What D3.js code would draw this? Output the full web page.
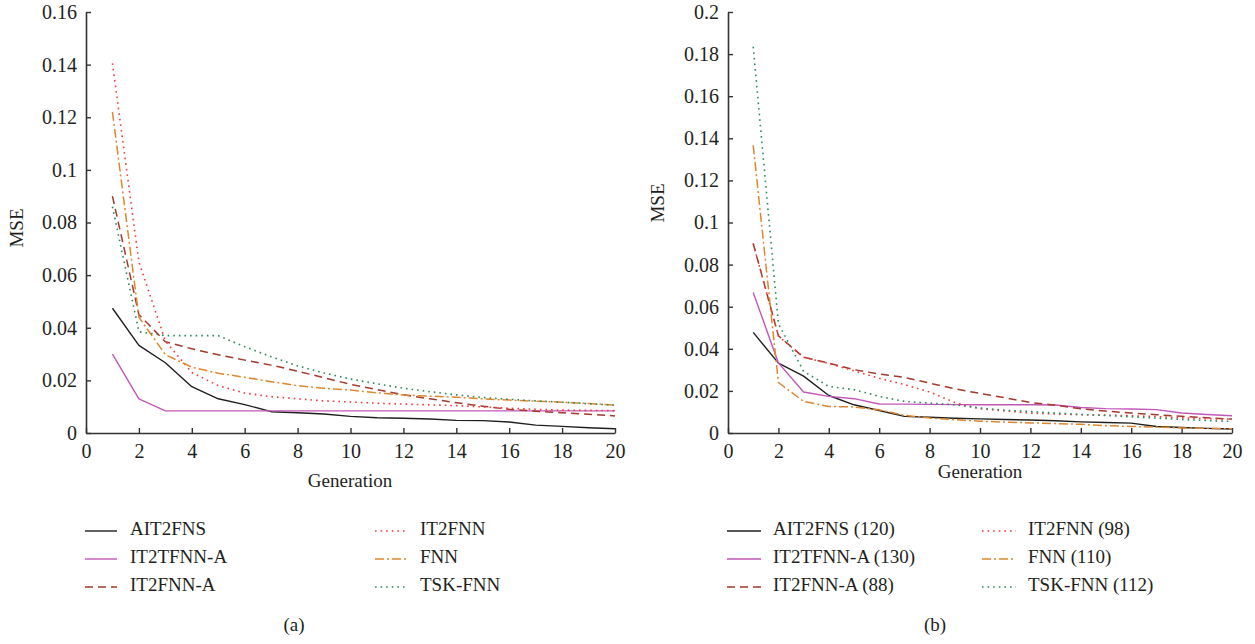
<!DOCTYPE html>
<html>
<head>
<meta charset="utf-8">
<script src="https://cdn.jsdelivr.net/npm/d3@7"></script>
<style>
  html, body { margin: 0; padding: 0; background: #fff; }
  svg { display: block; }
  text { font-family: "Liberation Serif", "Times New Roman", serif; fill: #231f20; }
</style>
</head>
<body>
<svg id="chart" width="1255" height="644"></svg>
<script>
// Generations 1..20
const generations = d3.range(1, 21);

// Panel (a) MSE per generation
const aAIT2FNS   = [0.0474, 0.0333, 0.0267, 0.0176, 0.0130, 0.0108, 0.0081, 0.0077, 0.0072, 0.0063, 0.0058, 0.0056, 0.0053, 0.0048, 0.0047, 0.0042, 0.0030, 0.0025, 0.0020, 0.0016];
const aIT2TFNN_A = [0.0300, 0.0130, 0.0084, 0.0084, 0.0084, 0.0084, 0.0084, 0.0084, 0.0084, 0.0084, 0.0084, 0.0084, 0.0084, 0.0084, 0.0084, 0.0084, 0.0084, 0.0084, 0.0084, 0.0084];
const aIT2FNN_A  = [0.0900, 0.0450, 0.0347, 0.0320, 0.0297, 0.0277, 0.0258, 0.0235, 0.0210, 0.0185, 0.0165, 0.0145, 0.0130, 0.0115, 0.0102, 0.0090, 0.0083, 0.0077, 0.0071, 0.0065];
const aIT2FNN    = [0.1405, 0.0650, 0.0350, 0.0230, 0.0180, 0.0152, 0.0138, 0.0130, 0.0122, 0.0118, 0.0113, 0.0110, 0.0107, 0.0104, 0.0099, 0.0094, 0.0090, 0.0087, 0.0086, 0.0085];
const aFNN       = [0.1220, 0.0440, 0.0298, 0.0250, 0.0227, 0.0212, 0.0195, 0.0180, 0.0170, 0.0163, 0.0153, 0.0144, 0.0140, 0.0136, 0.0130, 0.0125, 0.0121, 0.0117, 0.0112, 0.0106];
const aTSK_FNN   = [0.0860, 0.0385, 0.0370, 0.0370, 0.0370, 0.0328, 0.0290, 0.0255, 0.0228, 0.0205, 0.0187, 0.0170, 0.0157, 0.0145, 0.0135, 0.0128, 0.0122, 0.0117, 0.0111, 0.0106];

// Panel (b) MSE per generation
const bAIT2FNS   = [0.0478, 0.0332, 0.0270, 0.0178, 0.0134, 0.0107, 0.0079, 0.0075, 0.0070, 0.0067, 0.0064, 0.0062, 0.0058, 0.0053, 0.0050, 0.0047, 0.0031, 0.0026, 0.0022, 0.0019];
const bIT2TFNN_A = [0.0667, 0.0333, 0.0195, 0.0174, 0.0163, 0.0138, 0.0137, 0.0136, 0.0135, 0.0134, 0.0134, 0.0134, 0.0133, 0.0121, 0.0116, 0.0114, 0.0111, 0.0095, 0.0088, 0.0082];
const bIT2FNN_A  = [0.0900, 0.0462, 0.0360, 0.0332, 0.0301, 0.0280, 0.0264, 0.0237, 0.0210, 0.0188, 0.0167, 0.0145, 0.0132, 0.0115, 0.0104, 0.0095, 0.0087, 0.0079, 0.0072, 0.0066];
const bIT2FNN    = [0.0900, 0.0460, 0.0360, 0.0330, 0.0295, 0.0260, 0.0230, 0.0195, 0.0145, 0.0115, 0.0105, 0.0095, 0.0090, 0.0087, 0.0085, 0.0082, 0.0078, 0.0072, 0.0068, 0.0066];
const bFNN       = [0.1367, 0.0240, 0.0150, 0.0126, 0.0124, 0.0110, 0.0084, 0.0071, 0.0063, 0.0056, 0.0052, 0.0048, 0.0045, 0.0041, 0.0035, 0.0031, 0.0028, 0.0024, 0.0022, 0.0020];
const bTSK_FNN   = [0.1835, 0.0520, 0.0293, 0.0221, 0.0206, 0.0174, 0.0150, 0.0142, 0.0134, 0.0119, 0.0108, 0.0102, 0.0095, 0.0088, 0.0083, 0.0077, 0.0071, 0.0064, 0.0059, 0.0055];

// Series names
const namesA = ["AIT2FNS", "IT2TFNN-A", "IT2FNN-A", "IT2FNN", "FNN", "TSK-FNN"];
const namesB = ["AIT2FNS (120)", "IT2TFNN-A (130)", "IT2FNN-A (88)", "IT2FNN (98)", "FNN (110)", "TSK-FNN (112)"];

// Tick values and labels
const xTicks = [0, 2, 4, 6, 8, 10, 12, 14, 16, 18, 20];
const xTickLabels = ["0", "2", "4", "6", "8", "10", "12", "14", "16", "18", "20"];
const yTicksA = [0, 0.02, 0.04, 0.06, 0.08, 0.1, 0.12, 0.14, 0.16];
const yTickLabelsA = ["0", "0.02", "0.04", "0.06", "0.08", "0.1", "0.12", "0.14", "0.16"];
const yTicksB = [0, 0.02, 0.04, 0.06, 0.08, 0.1, 0.12, 0.14, 0.16, 0.18, 0.2];
const yTickLabelsB = ["0", "0.02", "0.04", "0.06", "0.08", "0.1", "0.12", "0.14", "0.16", "0.18", "0.2"];

// Line styling per series (same order as names)
const styles = [
  { color: "#1f1f1f", dash: null,          width: 1.4 },
  { color: "#c257b8", dash: null,          width: 1.4 },
  { color: "#a33a2c", dash: "8,5",         width: 1.5 },
  { color: "#f23a3a", dash: "1.6,4",       width: 1.6 },
  { color: "#e0862e", dash: "9,3,2,3",     width: 1.5 },
  { color: "#2f8a5a", dash: "1.6,4",       width: 1.6 }
];

const svg = d3.select("#chart");

function drawPanel(cfg) {
  const x = d3.scaleLinear().domain([0, 20]).range([cfg.left, cfg.right]);
  const y = d3.scaleLinear().domain([0, cfg.yMax]).range([cfg.bottom, cfg.top]);
  const g = svg.append("g");

  // axes with inward ticks
  const xAxis = d3.axisBottom(x)
    .tickValues(xTicks)
    .tickFormat((d, i) => xTickLabels[i])
    .tickSizeInner(-5).tickSizeOuter(0).tickPadding(11);
  const yAxis = d3.axisLeft(y)
    .tickValues(cfg.yTicks)
    .tickFormat((d, i) => cfg.yLabels[i])
    .tickSizeInner(-5).tickSizeOuter(0).tickPadding(9);

  const gx = g.append("g").attr("transform", `translate(0,${cfg.bottom})`).call(xAxis);
  const gy = g.append("g").attr("transform", `translate(${cfg.left},0)`).call(yAxis);
  [gx, gy].forEach(a => {
    a.select(".domain").attr("stroke", "#333").attr("stroke-width", 1.6);
    a.selectAll(".tick line").attr("stroke", "#333").attr("stroke-width", 1.4);
    a.selectAll(".tick text")
      .style("font-family", "'Liberation Serif', serif")
      .style("font-size", "20px").attr("fill", "#231f20");
  });

  // series lines
  const line = d3.line().x((d, i) => x(generations[i])).y(d => y(d));
  cfg.series.forEach((s, i) => {
    const st = styles[i];
    g.append("path")
      .datum(s)
      .attr("d", line)
      .attr("fill", "none")
      .attr("stroke", st.color)
      .attr("stroke-width", st.width)
      .attr("stroke-dasharray", st.dash)
      .attr("stroke-linejoin", "round");
  });

  // axis titles
  g.append("text")
    .attr("transform", `translate(${cfg.yTitleX},${cfg.yTitleY}) rotate(-90)`)
    .attr("text-anchor", "middle").attr("dominant-baseline", "middle")
    .style("font-size", "19px").text("MSE");
  g.append("text")
    .attr("x", cfg.xTitleX).attr("y", cfg.xTitleY)
    .attr("text-anchor", "middle").attr("dominant-baseline", "middle")
    .style("font-size", "19px").text("Generation");

  // legend: two columns of three
  const rows = [531, 559, 587];
  cfg.names.forEach((name, i) => {
    const col = i < 3 ? 0 : 1;
    const row = i % 3;
    const lx = cfg.legendCols[col];
    const ly = rows[row];
    const st = styles[i];
    g.append("line")
      .attr("x1", lx).attr("x2", lx + cfg.legendLen)
      .attr("y1", ly).attr("y2", ly)
      .attr("stroke", st.color).attr("stroke-width", st.width)
      .attr("stroke-dasharray", st.dash);
    g.append("text")
      .attr("x", lx + cfg.legendLen + cfg.legendGap).attr("y", ly)
      .attr("dominant-baseline", "middle")
      .style("font-size", "19px").text(name);
  });

  // panel caption
  g.append("text")
    .attr("x", cfg.captionX).attr("y", 627)
    .attr("text-anchor", "middle").attr("dominant-baseline", "middle")
    .style("font-size", "19px").text(cfg.caption);
}

drawPanel({
  left: 86, right: 615, top: 12, bottom: 433, yMax: 0.16,
  yTicks: yTicksA, yLabels: yTickLabelsA,
  series: [aAIT2FNS, aIT2TFNN_A, aIT2FNN_A, aIT2FNN, aFNN, aTSK_FNN],
  names: namesA,
  yTitleX: 19, yTitleY: 228, xTitleX: 350, xTitleY: 483,
  legendCols: [85, 375], legendLen: 32, legendGap: 13,
  captionX: 294, caption: "(a)"
});

drawPanel({
  left: 728, right: 1232, top: 12, bottom: 433, yMax: 0.2,
  yTicks: yTicksB, yLabels: yTickLabelsB,
  series: [bAIT2FNS, bIT2TFNN_A, bIT2FNN_A, bIT2FNN, bFNN, bTSK_FNN],
  names: namesB,
  yTitleX: 660, yTitleY: 203, xTitleX: 980, xTitleY: 474,
  legendCols: [727, 982], legendLen: 34, legendGap: 12,
  captionX: 935, caption: "(b)"
});
</script>
</body>
</html>
